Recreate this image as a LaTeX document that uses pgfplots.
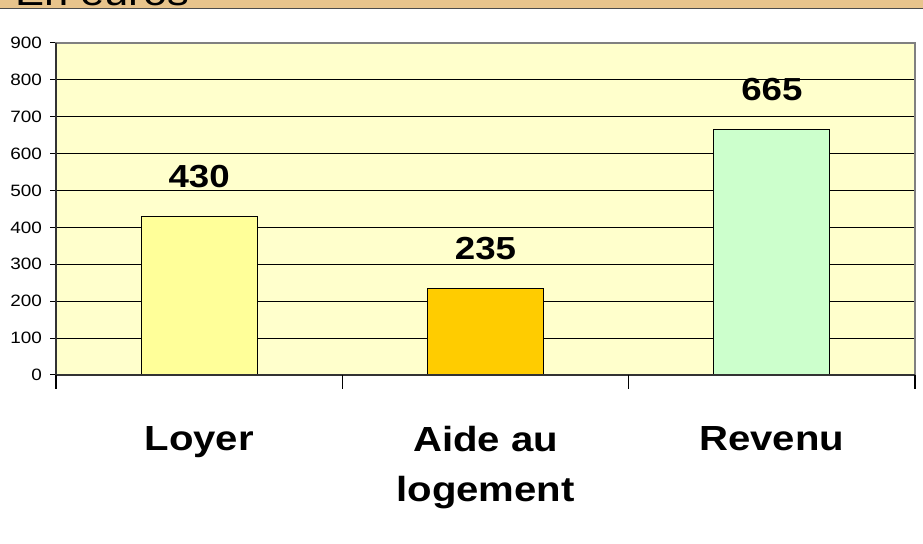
\documentclass[border=0pt]{standalone}
\usepackage{pgfplots}
\pgfplotsset{compat=1.18}
\usepackage{fontspec}
\setmainfont{Liberation Sans}[FakeStretch=1.15]
\definecolor{plotbg}{HTML}{FFFFCC}
\definecolor{tanstrip}{HTML}{E8C48C}
\definecolor{cLoyer}{HTML}{FFFF99}
\definecolor{cAide}{HTML}{FFCC00}
\definecolor{cRevenu}{HTML}{CCFFCC}
\definecolor{frame}{HTML}{808080}
\begin{document}
\begin{tikzpicture}
\useasboundingbox (0bp,0bp) rectangle (923bp,544bp);
\clip (0bp,0bp) rectangle (923bp,544bp);
\fill[tanstrip] (0bp,536bp) rectangle (923bp,544bp);
\draw[color=black!70, line width=1.5bp] (0bp,535.5bp) -- (923bp,535.5bp);
\node[anchor=base west, inner sep=0pt, font=\fontsize{38}{40}\selectfont] at (15bp,538bp) {En euros};
\begin{axis}[
  at={(56bp,169bp)}, anchor=south west,
  scale only axis, width=859bp, height=332bp,
  xmin=-0.5, xmax=2.5, ymin=0, ymax=900,
  ytick={0,100,...,900},
  xtick={0,1,2},
  xticklabels={Loyer,{Aide au\\logement},Revenu},
  xtick style={draw=none},
  ytick style={draw=black, line width=1bp},
  ytick pos=left,
  tick align=outside, major tick length=6bp,
  /pgf/number format/assume math mode=true,
  yticklabel style={font=\fontsize{16.5}{18}\selectfont, inner sep=0pt, xshift=-8bp},
  xticklabel style={font=\fontsize{35}{50}\selectfont\bfseries, align=center, anchor=north, inner sep=0pt, yshift=-45bp},
  axis background/.style={fill=plotbg},
  ymajorgrids, grid style={black, line width=0.9bp},
  axis line style={draw=frame, line width=1.6bp},
  ybar, bar shift=0pt, bar width=116bp,
  every axis plot/.append style={draw=black, line width=1.2bp},
  nodes near coords,
  every node near coord/.append style={font=\fontsize{32}{34}\selectfont\bfseries, inner sep=0pt, anchor=south, yshift=28bp, text=black},
  clip=false,
]
\addplot[fill=cLoyer] coordinates {(0,430)};
\addplot[fill=cAide] coordinates {(1,235)};
\addplot[fill=cRevenu] coordinates {(2,665)};
\draw[black!80, line width=1.4bp] (rel axis cs:0,1) -- (rel axis cs:0,0) -- (rel axis cs:1,0);
\pgfplotsinvokeforeach{-0.5,0.5,1.5,2.5}{\draw[black, line width=1.2bp] (axis cs:#1,0) -- ([yshift=-14bp]axis cs:#1,0);}
\end{axis}
\end{tikzpicture}
\end{document}
